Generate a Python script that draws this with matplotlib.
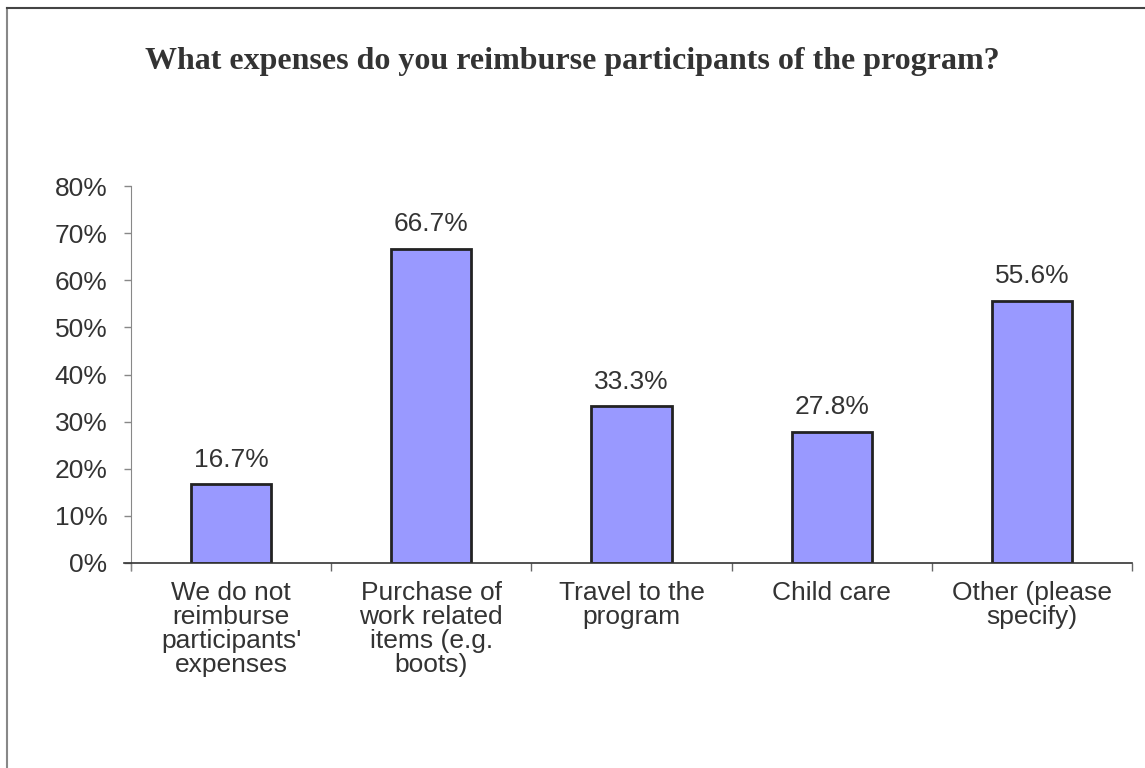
import numpy as np
import matplotlib.pyplot as plt
from matplotlib.lines import Line2D
from matplotlib.ticker import FixedLocator

categories = ["We do not\nreimburse\nparticipants'\nexpenses",
              "Purchase of\nwork related\nitems (e.g.\nboots)",
              "Travel to the\nprogram",
              "Child care",
              "Other (please\nspecify)"]
values = [16.7, 66.7, 33.3, 27.8, 55.6]
yticks = [0, 10, 20, 30, 40, 50, 60, 70, 80]
title = "What expenses do you reimburse participants of the program?"

txt = '#333333'
sans = ['Liberation Sans', 'DejaVu Sans']
serif = ['Liberation Serif', 'DejaVu Serif']

fig = plt.figure(figsize=(11.45, 7.68), dpi=100)
ax = fig.add_axes([131 / 1145, 1 - 563 / 768, (1132 - 131) / 1145, (563 - 186) / 768])

x = np.arange(len(categories))
ax.bar(x, values, width=0.4, color='#9999FF', edgecolor='#222222', linewidth=2, zorder=3)

for xi, v in zip(x, values):
    ax.annotate(f"{v:.1f}%", (xi, v), xytext=(0, 9), textcoords='offset points',
                ha='center', va='bottom', fontsize=19, color=txt, family=sans)

ax.set_xlim(-0.5, len(categories) - 0.5)
ax.set_ylim(0, 80)
ax.set_yticks(yticks)
ax.set_yticklabels([f"{t}%" for t in yticks], fontsize=19, color=txt, family=sans)
ax.set_xticks(x)
ax.set_xticklabels(categories, fontsize=19, color=txt, family=sans, linespacing=1.0)
ax.tick_params(axis='x', length=0, pad=13)
ax.xaxis.set_minor_locator(FixedLocator(np.arange(-0.5, len(categories), 1.0)))
ax.tick_params(axis='x', which='minor', length=6, color='#666666', width=1)
ax.tick_params(axis='y', length=5, color='#888888', width=1, pad=12)

for s in ['top', 'right', 'bottom']:
    ax.spines[s].set_visible(False)
ax.spines['left'].set_color('#888888')
ax.spines['left'].set_bounds(-1.5, 80)
ax.axhline(0, xmin=-0.007, xmax=1, color='#333333', lw=1.2, clip_on=False, zorder=4)

fig.text(0.5, 1 - 62 / 768, title, ha='center', va='center', fontsize=23,
         fontweight='bold', color=txt, family=serif)

# chart area border (top and left visible)
fig.add_artist(Line2D([7 / 1145, 7 / 1145], [0, 1 - 8 / 768], transform=fig.transFigure,
                      color='#888888', lw=1.5))
fig.add_artist(Line2D([7 / 1145, 1], [1 - 8 / 768, 1 - 8 / 768], transform=fig.transFigure,
                      color='#444444', lw=1.5))

fig.savefig('out.png', dpi=100)
